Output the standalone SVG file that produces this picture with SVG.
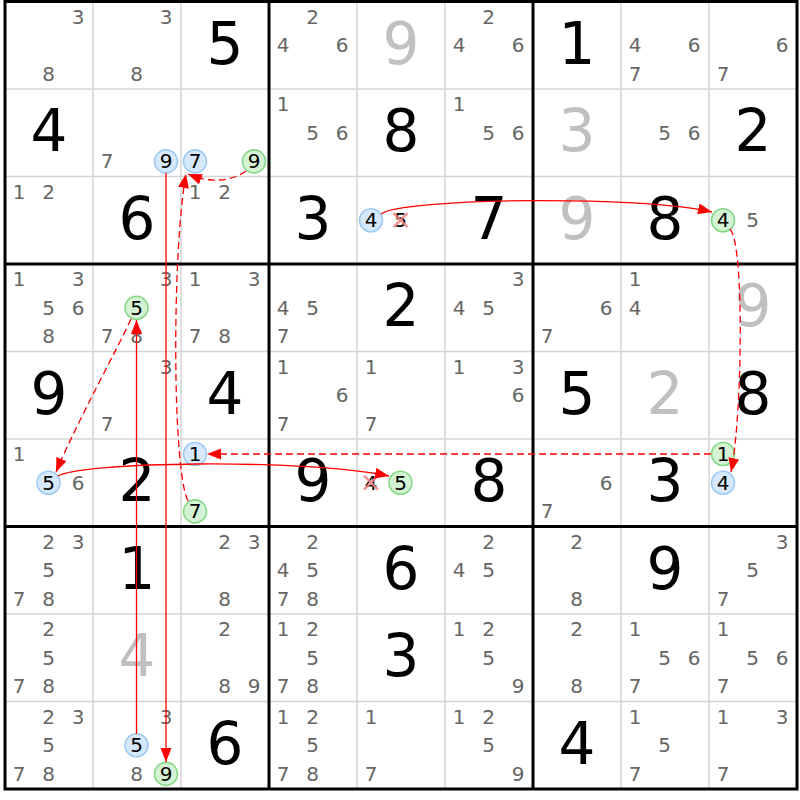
<svg xmlns="http://www.w3.org/2000/svg" width="800" height="800" viewBox="0 0 800 800">
<style>
text{font-family:"DejaVu Sans","Verdana",sans-serif;text-anchor:middle}
.b{font-size:58px;fill:#000}
.g{font-size:58px;fill:#c0c0c0}
.c{font-size:20px;fill:#666}
.k{font-size:20px;fill:#000}
.hb{fill:#d6e8fb;stroke:#9ec9f3;stroke-width:1.6}
.hg{fill:#d4f2d4;stroke:#85d885;stroke-width:1.6}
.thin{stroke:#d4d4d4;stroke-width:1.5}
.thick{stroke:#000;stroke-width:3;fill:none}
.ln{fill:none;stroke:#ff0000;stroke-width:1.3}
.dash{stroke-dasharray:7 4}
.x{stroke:#f08080;stroke-width:2.6;stroke-opacity:.85}
</style>
<defs>
<marker id="ah" markerUnits="userSpaceOnUse" markerWidth="15" markerHeight="12" refX="14" refY="5.5" orient="auto"><path d="M0,0 L14,5.5 L0,11 z" fill="#ff0000"/></marker>
</defs>
<rect x="0" y="0" width="800" height="800" fill="#fff"/>
<g id="grid">
<g class="thin">
<line x1="93" y1="1.5" x2="93" y2="789"/><line x1="181" y1="1.5" x2="181" y2="789"/>
<line x1="357" y1="1.5" x2="357" y2="789"/><line x1="445" y1="1.5" x2="445" y2="789"/>
<line x1="621" y1="1.5" x2="621" y2="789"/><line x1="709" y1="1.5" x2="709" y2="789"/>
<line x1="5" y1="89" x2="797" y2="89"/><line x1="5" y1="176.5" x2="797" y2="176.5"/>
<line x1="5" y1="351.5" x2="797" y2="351.5"/><line x1="5" y1="439" x2="797" y2="439"/>
<line x1="5" y1="614" x2="797" y2="614"/><line x1="5" y1="701.5" x2="797" y2="701.5"/>
</g>
<g class="thick">
<rect x="5" y="1.5" width="792" height="787.5"/>
<line x1="269" y1="1.5" x2="269" y2="789"/><line x1="533" y1="1.5" x2="533" y2="789"/>
<line x1="5" y1="264" x2="797" y2="264"/><line x1="5" y1="526.5" x2="797" y2="526.5"/>
</g>
</g>

<g id="r0c0" transform="translate(5,1.5)"><text class="c" x="73" y="22">3</text><text class="c" x="43.5" y="79.4">8</text></g>
<g id="r0c1" transform="translate(93,1.5)"><text class="c" x="73" y="22">3</text><text class="c" x="43.5" y="79.4">8</text></g>
<g id="r0c2" transform="translate(181,1.5)"><text class="b" x="44" y="62">5</text></g>
<g id="r0c3" transform="translate(269,1.5)"><text class="c" x="43.5" y="22">2</text><text class="c" x="14" y="50.7">4</text><text class="c" x="73" y="50.7">6</text></g>
<g id="r0c4" transform="translate(357,1.5)"><text class="g" x="44" y="62">9</text></g>
<g id="r0c5" transform="translate(445,1.5)"><text class="c" x="43.5" y="22">2</text><text class="c" x="14" y="50.7">4</text><text class="c" x="73" y="50.7">6</text></g>
<g id="r0c6" transform="translate(533,1.5)"><text class="b" x="44" y="62">1</text></g>
<g id="r0c7" transform="translate(621,1.5)"><text class="c" x="14" y="50.7">4</text><text class="c" x="73" y="50.7">6</text><text class="c" x="14" y="79.4">7</text></g>
<g id="r0c8" transform="translate(709,1.5)"><text class="c" x="73" y="50.7">6</text><text class="c" x="14" y="79.4">7</text></g>

<g id="r1c0" transform="translate(5,89)"><text class="b" x="44" y="62">4</text></g>
<g id="r1c1" transform="translate(93,89)"><text class="c" x="14" y="79.4">7</text><circle class="hb" cx="73" cy="72.4" r="11.5"/><text class="k" x="73" y="79.4">9</text></g>
<g id="r1c2" transform="translate(181,89)"><circle class="hb" cx="14" cy="72.4" r="11.5"/><text class="k" x="14" y="79.4">7</text><circle class="hg" cx="73" cy="72.4" r="11.5"/><text class="k" x="73" y="79.4">9</text></g>
<g id="r1c3" transform="translate(269,89)"><text class="c" x="14" y="22">1</text><text class="c" x="43.5" y="50.7">5</text><text class="c" x="73" y="50.7">6</text></g>
<g id="r1c4" transform="translate(357,89)"><text class="b" x="44" y="62">8</text></g>
<g id="r1c5" transform="translate(445,89)"><text class="c" x="14" y="22">1</text><text class="c" x="43.5" y="50.7">5</text><text class="c" x="73" y="50.7">6</text></g>
<g id="r1c6" transform="translate(533,89)"><text class="g" x="44" y="62">3</text></g>
<g id="r1c7" transform="translate(621,89)"><text class="c" x="43.5" y="50.7">5</text><text class="c" x="73" y="50.7">6</text></g>
<g id="r1c8" transform="translate(709,89)"><text class="b" x="44" y="62">2</text></g>

<g id="r2c0" transform="translate(5,176.5)"><text class="c" x="14" y="22">1</text><text class="c" x="43.5" y="22">2</text></g>
<g id="r2c1" transform="translate(93,176.5)"><text class="b" x="44" y="62">6</text></g>
<g id="r2c2" transform="translate(181,176.5)"><text class="c" x="14" y="22">1</text><text class="c" x="43.5" y="22">2</text></g>
<g id="r2c3" transform="translate(269,176.5)"><text class="b" x="44" y="62">3</text></g>
<g id="r2c4" transform="translate(357,176.5)"><circle class="hb" cx="14" cy="43.7" r="11.5"/><text class="k" x="14" y="50.7">4</text><text class="k" x="43.5" y="50.7">5</text><path class="x" d="M36.5,36.7 L50.5,50.7 M50.5,36.7 L36.5,50.7"/></g>
<g id="r2c5" transform="translate(445,176.5)"><text class="b" x="44" y="62">7</text></g>
<g id="r2c6" transform="translate(533,176.5)"><text class="g" x="44" y="62">9</text></g>
<g id="r2c7" transform="translate(621,176.5)"><text class="b" x="44" y="62">8</text></g>
<g id="r2c8" transform="translate(709,176.5)"><circle class="hg" cx="14" cy="43.7" r="11.5"/><text class="k" x="14" y="50.7">4</text><text class="c" x="43.5" y="50.7">5</text></g>

<g id="r3c0" transform="translate(5,264)"><text class="c" x="14" y="22">1</text><text class="c" x="73" y="22">3</text><text class="c" x="43.5" y="50.7">5</text><text class="c" x="73" y="50.7">6</text><text class="c" x="43.5" y="79.4">8</text></g>
<g id="r3c1" transform="translate(93,264)"><text class="c" x="73" y="22">3</text><circle class="hg" cx="43.5" cy="43.7" r="11.5"/><text class="k" x="43.5" y="50.7">5</text><text class="c" x="14" y="79.4">7</text><text class="c" x="43.5" y="79.4">8</text></g>
<g id="r3c2" transform="translate(181,264)"><text class="c" x="14" y="22">1</text><text class="c" x="73" y="22">3</text><text class="c" x="14" y="79.4">7</text><text class="c" x="43.5" y="79.4">8</text></g>
<g id="r3c3" transform="translate(269,264)"><text class="c" x="14" y="50.7">4</text><text class="c" x="43.5" y="50.7">5</text><text class="c" x="14" y="79.4">7</text></g>
<g id="r3c4" transform="translate(357,264)"><text class="b" x="44" y="62">2</text></g>
<g id="r3c5" transform="translate(445,264)"><text class="c" x="73" y="22">3</text><text class="c" x="14" y="50.7">4</text><text class="c" x="43.5" y="50.7">5</text></g>
<g id="r3c6" transform="translate(533,264)"><text class="c" x="73" y="50.7">6</text><text class="c" x="14" y="79.4">7</text></g>
<g id="r3c7" transform="translate(621,264)"><text class="c" x="14" y="22">1</text><text class="c" x="14" y="50.7">4</text></g>
<g id="r3c8" transform="translate(709,264)"><text class="g" x="44" y="62">9</text></g>

<g id="r4c0" transform="translate(5,351.5)"><text class="b" x="44" y="62">9</text></g>
<g id="r4c1" transform="translate(93,351.5)"><text class="c" x="73" y="22">3</text><text class="c" x="14" y="79.4">7</text></g>
<g id="r4c2" transform="translate(181,351.5)"><text class="b" x="44" y="62">4</text></g>
<g id="r4c3" transform="translate(269,351.5)"><text class="c" x="14" y="22">1</text><text class="c" x="73" y="50.7">6</text><text class="c" x="14" y="79.4">7</text></g>
<g id="r4c4" transform="translate(357,351.5)"><text class="c" x="14" y="22">1</text><text class="c" x="14" y="79.4">7</text></g>
<g id="r4c5" transform="translate(445,351.5)"><text class="c" x="14" y="22">1</text><text class="c" x="73" y="22">3</text><text class="c" x="73" y="50.7">6</text></g>
<g id="r4c6" transform="translate(533,351.5)"><text class="b" x="44" y="62">5</text></g>
<g id="r4c7" transform="translate(621,351.5)"><text class="g" x="44" y="62">2</text></g>
<g id="r4c8" transform="translate(709,351.5)"><text class="b" x="44" y="62">8</text></g>

<g id="r5c0" transform="translate(5,439)"><text class="c" x="14" y="22">1</text><circle class="hb" cx="43.5" cy="43.7" r="11.5"/><text class="k" x="43.5" y="50.7">5</text><text class="c" x="73" y="50.7">6</text></g>
<g id="r5c1" transform="translate(93,439)"><text class="b" x="44" y="62">2</text></g>
<g id="r5c2" transform="translate(181,439)"><circle class="hb" cx="14" cy="15" r="11.5"/><text class="k" x="14" y="22">1</text><circle class="hg" cx="14" cy="72.4" r="11.5"/><text class="k" x="14" y="79.4">7</text></g>
<g id="r5c3" transform="translate(269,439)"><text class="b" x="44" y="62">9</text></g>
<g id="r5c4" transform="translate(357,439)"><text class="k" x="14" y="50.7">4</text><path class="x" d="M7,36.7 L21,50.7 M21,36.7 L7,50.7"/><circle class="hg" cx="43.5" cy="43.7" r="11.5"/><text class="k" x="43.5" y="50.7">5</text></g>
<g id="r5c5" transform="translate(445,439)"><text class="b" x="44" y="62">8</text></g>
<g id="r5c6" transform="translate(533,439)"><text class="c" x="73" y="50.7">6</text><text class="c" x="14" y="79.4">7</text></g>
<g id="r5c7" transform="translate(621,439)"><text class="b" x="44" y="62">3</text></g>
<g id="r5c8" transform="translate(709,439)"><circle class="hg" cx="14" cy="15" r="11.5"/><text class="k" x="14" y="22">1</text><circle class="hb" cx="14" cy="43.7" r="11.5"/><text class="k" x="14" y="50.7">4</text></g>

<g id="r6c0" transform="translate(5,526.5)"><text class="c" x="43.5" y="22">2</text><text class="c" x="73" y="22">3</text><text class="c" x="43.5" y="50.7">5</text><text class="c" x="14" y="79.4">7</text><text class="c" x="43.5" y="79.4">8</text></g>
<g id="r6c1" transform="translate(93,526.5)"><text class="b" x="44" y="62">1</text></g>
<g id="r6c2" transform="translate(181,526.5)"><text class="c" x="43.5" y="22">2</text><text class="c" x="73" y="22">3</text><text class="c" x="43.5" y="79.4">8</text></g>
<g id="r6c3" transform="translate(269,526.5)"><text class="c" x="43.5" y="22">2</text><text class="c" x="14" y="50.7">4</text><text class="c" x="43.5" y="50.7">5</text><text class="c" x="14" y="79.4">7</text><text class="c" x="43.5" y="79.4">8</text></g>
<g id="r6c4" transform="translate(357,526.5)"><text class="b" x="44" y="62">6</text></g>
<g id="r6c5" transform="translate(445,526.5)"><text class="c" x="43.5" y="22">2</text><text class="c" x="14" y="50.7">4</text><text class="c" x="43.5" y="50.7">5</text></g>
<g id="r6c6" transform="translate(533,526.5)"><text class="c" x="43.5" y="22">2</text><text class="c" x="43.5" y="79.4">8</text></g>
<g id="r6c7" transform="translate(621,526.5)"><text class="b" x="44" y="62">9</text></g>
<g id="r6c8" transform="translate(709,526.5)"><text class="c" x="73" y="22">3</text><text class="c" x="43.5" y="50.7">5</text><text class="c" x="14" y="79.4">7</text></g>

<g id="r7c0" transform="translate(5,614)"><text class="c" x="43.5" y="22">2</text><text class="c" x="43.5" y="50.7">5</text><text class="c" x="14" y="79.4">7</text><text class="c" x="43.5" y="79.4">8</text></g>
<g id="r7c1" transform="translate(93,614)"><text class="g" x="44" y="62">4</text></g>
<g id="r7c2" transform="translate(181,614)"><text class="c" x="43.5" y="22">2</text><text class="c" x="43.5" y="79.4">8</text><text class="c" x="73" y="79.4">9</text></g>
<g id="r7c3" transform="translate(269,614)"><text class="c" x="14" y="22">1</text><text class="c" x="43.5" y="22">2</text><text class="c" x="43.5" y="50.7">5</text><text class="c" x="14" y="79.4">7</text><text class="c" x="43.5" y="79.4">8</text></g>
<g id="r7c4" transform="translate(357,614)"><text class="b" x="44" y="62">3</text></g>
<g id="r7c5" transform="translate(445,614)"><text class="c" x="14" y="22">1</text><text class="c" x="43.5" y="22">2</text><text class="c" x="43.5" y="50.7">5</text><text class="c" x="73" y="79.4">9</text></g>
<g id="r7c6" transform="translate(533,614)"><text class="c" x="43.5" y="22">2</text><text class="c" x="43.5" y="79.4">8</text></g>
<g id="r7c7" transform="translate(621,614)"><text class="c" x="14" y="22">1</text><text class="c" x="43.5" y="50.7">5</text><text class="c" x="73" y="50.7">6</text><text class="c" x="14" y="79.4">7</text></g>
<g id="r7c8" transform="translate(709,614)"><text class="c" x="14" y="22">1</text><text class="c" x="43.5" y="50.7">5</text><text class="c" x="73" y="50.7">6</text><text class="c" x="14" y="79.4">7</text></g>

<g id="r8c0" transform="translate(5,701.5)"><text class="c" x="43.5" y="22">2</text><text class="c" x="73" y="22">3</text><text class="c" x="43.5" y="50.7">5</text><text class="c" x="14" y="79.4">7</text><text class="c" x="43.5" y="79.4">8</text></g>
<g id="r8c1" transform="translate(93,701.5)"><text class="c" x="73" y="22">3</text><circle class="hb" cx="43.5" cy="43.7" r="11.5"/><text class="k" x="43.5" y="50.7">5</text><text class="c" x="43.5" y="79.4">8</text><circle class="hg" cx="73" cy="72.4" r="11.5"/><text class="k" x="73" y="79.4">9</text></g>
<g id="r8c2" transform="translate(181,701.5)"><text class="b" x="44" y="62">6</text></g>
<g id="r8c3" transform="translate(269,701.5)"><text class="c" x="14" y="22">1</text><text class="c" x="43.5" y="22">2</text><text class="c" x="43.5" y="50.7">5</text><text class="c" x="14" y="79.4">7</text><text class="c" x="43.5" y="79.4">8</text></g>
<g id="r8c4" transform="translate(357,701.5)"><text class="c" x="14" y="22">1</text><text class="c" x="14" y="79.4">7</text></g>
<g id="r8c5" transform="translate(445,701.5)"><text class="c" x="14" y="22">1</text><text class="c" x="43.5" y="22">2</text><text class="c" x="43.5" y="50.7">5</text><text class="c" x="73" y="79.4">9</text></g>
<g id="r8c6" transform="translate(533,701.5)"><text class="b" x="44" y="62">4</text></g>
<g id="r8c7" transform="translate(621,701.5)"><text class="c" x="14" y="22">1</text><text class="c" x="43.5" y="50.7">5</text><text class="c" x="14" y="79.4">7</text></g>
<g id="r8c8" transform="translate(709,701.5)"><text class="c" x="14" y="22">1</text><text class="c" x="73" y="22">3</text><text class="c" x="14" y="79.4">7</text></g>

<g id="connectors">
<path class="ln" d="M136.5,734 L136.5,320" marker-end="url(#ah)"/>
<path class="ln" d="M166,173 L166,762" marker-end="url(#ah)"/>
<path class="ln dash" d="M246,171 C230,182 210,183 188,174" marker-end="url(#ah)"/>
<path class="ln dash" d="M188,501 C172,470 172,250 186,174" marker-end="url(#ah)"/>
<path class="ln" d="M381,214 C400,198 640,195 712,212" marker-end="url(#ah)"/>
<path class="ln dash" d="M730,229 C745,245 742,420 731,472" marker-end="url(#ah)"/>
<path class="ln dash" d="M711,454 L207,454" marker-end="url(#ah)"/>
<path class="ln" d="M58,476 C80,462 300,458 389,476" marker-end="url(#ah)"/>
<path class="ln dash" d="M131,319 C118,348 78,420 56,472" marker-end="url(#ah)"/>
</g>
</svg>
